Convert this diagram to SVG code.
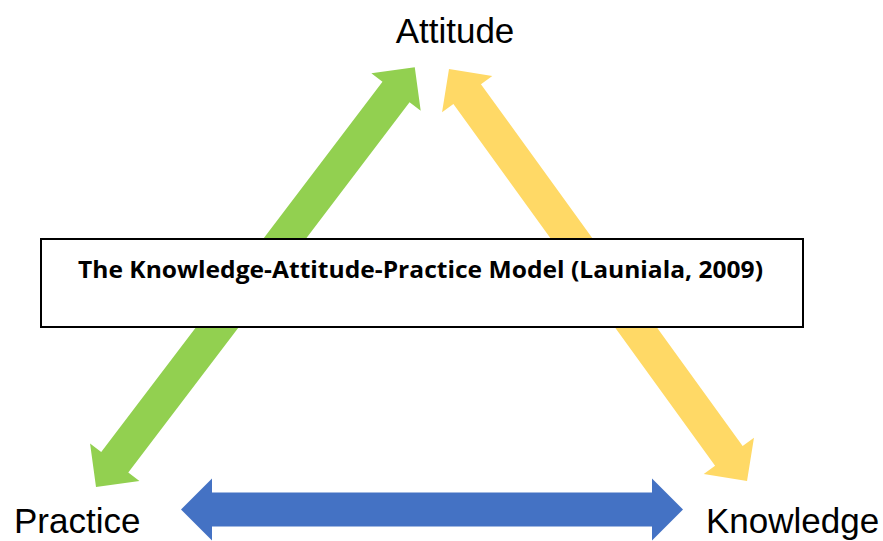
<svg xmlns="http://www.w3.org/2000/svg" width="883" height="541" viewBox="0 0 883 541">
  <style>
    .lbl { font-family: "Liberation Sans", Arial, sans-serif; font-size: 35px; fill: #000; }
    .title { font-family: "Open Sans", "Liberation Sans", Arial, sans-serif; font-size: 24px; font-weight: bold; fill: #000; }
  </style>
  <rect width="883" height="541" fill="#fff"/>
  <g id="connectors">
    <polygon id="green-arrow" fill="#92D050" transform="translate(96,487) rotate(-52.78)"
      points="0,0 31,-31 31,-17 496,-17 496,-31 527,0 496,31 496,17 31,17 31,31"/>
    <polygon id="yellow-arrow" fill="#FFD966" transform="translate(449,69) rotate(54.12)"
      points="0,0 31,-31 31,-17 477.5,-17 477.5,-31 508.5,0 477.5,31 477.5,17 31,17 31,31"/>
    <polygon id="blue-arrow" fill="#4472C4" transform="translate(181,509.5)"
      points="0,0 31,-31 31,-17 471,-17 471,-31 502,0 471,31 471,17 31,17 31,31"/>
  </g>
  <g id="node-attitude">
    <text class="lbl" x="455" y="43" text-anchor="middle">Attitude</text>
  </g>
  <g id="node-practice">
    <text class="lbl" x="14" y="533">Practice</text>
  </g>
  <g id="node-knowledge">
    <text class="lbl" x="706" y="533">Knowledge</text>
  </g>
  <g id="node-title">
    <rect x="41" y="239" width="762" height="88" fill="#fff" stroke="#000" stroke-width="2"/>
    <text class="title" x="78" y="278" textLength="685" lengthAdjust="spacingAndGlyphs">The Knowledge-Attitude-Practice Model (Launiala, 2009)</text>
  </g>
</svg>
